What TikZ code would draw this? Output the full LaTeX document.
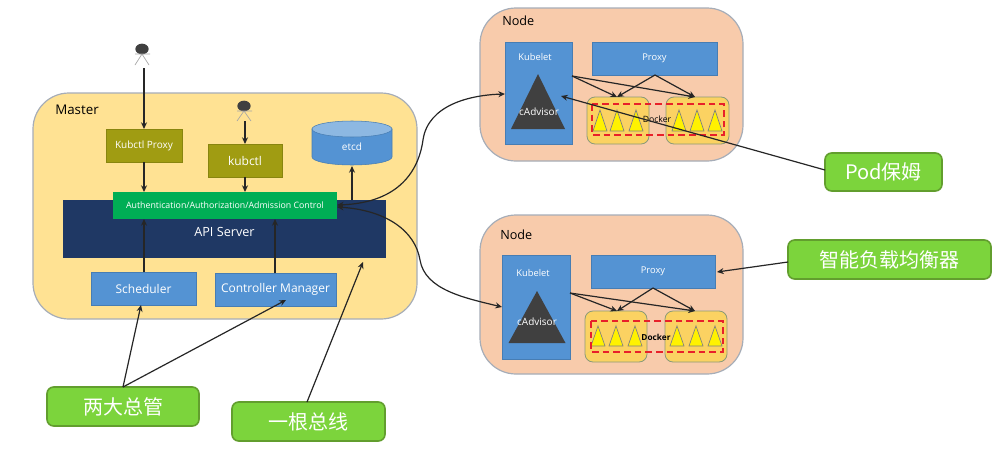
\documentclass[tikz,border=0pt]{standalone}
\usepackage{fontspec}
\setmainfont{Open Sans}
\newfontfamily\cjk{Noto Sans CJK SC}
\usetikzlibrary{arrows.meta,calc,shapes.geometric}
\definecolor{masterfill}{HTML}{FFE293}
\definecolor{nodefill}{HTML}{F8CBAB}
\definecolor{frameline}{HTML}{A6ADB8}
\definecolor{bluebox}{HTML}{5493D3}
\definecolor{bluetop}{HTML}{8DB8E2}
\definecolor{navybox}{HTML}{1F3864}
\definecolor{greenbarc}{HTML}{00AE55}
\definecolor{olivebox}{HTML}{A09C12}
\definecolor{podfill}{HTML}{FBD262}
\definecolor{podline}{HTML}{8A9A78}
\definecolor{callfill}{HTML}{7CD43C}
\definecolor{callline}{HTML}{629E2E}
\definecolor{darktri}{HTML}{404040}
\definecolor{reddash}{HTML}{E8202A}
\tikzset{
  px/.style={x=0.75pt,y=-0.75pt},
  basebox/.style={inner sep=0pt,outer sep=0pt,align=center},
  frame/.style={basebox,draw=frameline,line width=0.9pt,rounded corners=27pt},
  masterbx/.style={frame,fill=masterfill},
  worker/.style={frame,fill=nodefill},
  bluebx/.style={basebox,fill=bluebox,draw=bluebox!85!black,line width=0.4pt,text=white,font=\fontsize{9}{11}\selectfont},
  olivebx/.style={basebox,fill=olivebox,draw=olivebox!85!black,line width=0.5pt,text=white,font=\fontsize{7.5}{9}\selectfont},
  navybx/.style={basebox,fill=navybox,text=white,font=\fontsize{9.5}{11}\selectfont},
  greenbx/.style={basebox,fill=greenbarc,text=white,font=\fontsize{6.6}{8}\selectfont},
  pod/.style={basebox,fill=podfill,draw=podline,line width=0.6pt,rounded corners=6pt},
  callout/.style={basebox,fill=callfill,draw=callline,line width=1.2pt,rounded corners=5pt,text=white,font=\cjk\fontsize{15}{17}\selectfont},
  redbox/.style={draw=reddash,line width=1.5pt,dash pattern=on 5pt off 3pt},
  ytri/.style={fill=yellow,draw=gray,line width=0.5pt},
  dtri/.style={fill=darktri},
  conn/.style={draw=black!85,line width=0.9pt,-{Stealth[length=5pt,width=4.5pt]}},
  dconn/.style={draw=black!85,line width=0.9pt,{Stealth[length=5pt,width=4.5pt]}-{Stealth[length=5pt,width=4.5pt]}},
  stick/.style={draw=gray!70,line width=0.5pt},
  lbl/.style={inner sep=0pt,font=\fontsize{9.5}{11}\selectfont},
  headshape/.style={fill=darktri,ellipse,inner sep=0pt,minimum width=10pt,minimum height=8pt},
  dockerlbl/.style={inner sep=0pt,font=\fontsize{6.5}{8}\selectfont},
}
\newcommand{\pbx}[7]{%
  \pgfmathsetmacro{\cxv}{(#3+#5)/2}\pgfmathsetmacro{\cyv}{(#4+#6)/2}%
  \pgfmathsetmacro{\wv}{(#5-#3)*0.75}\pgfmathsetmacro{\hv}{(#6-#4)*0.75}%
  \node[#2,minimum width=\wv pt,minimum height=\hv pt] (#1) at (\cxv,\cyv) {#7};}
\newcommand{\ptri}[5]{\fill[#1] (#2,#3) -- ({#2-#5},#4) -- ({#2+#5},#4) -- cycle;}
\newcommand{\ytriangle}[4]{\draw[ytri] (#1,#2) -- ({#1-#4},#3) -- ({#1+#4},#3) -- cycle;}
\begin{document}
\begin{tikzpicture}[px]
\useasboundingbox[fill=white] (0,0) rectangle (1003,450);
% Master
\pbx{master}{masterbx}{33}{93}{417}{319}{}
\node[lbl,anchor=west,font=\fontsize{10}{12}\selectfont] (masterlabel) at (55,110) {Master};
\pbx{api}{navybx}{63}{200}{386}{258}{\raisebox{-11pt}{API Server}}
\pbx{auth}{greenbx}{113}{192}{337}{219}{Authentication/Authorization/Admission Control}
\pbx{kproxy}{olivebx}{106}{129}{182}{162}{Kubctl Proxy}
\pbx{kctl}{olivebx,font=\fontsize{9}{11}\selectfont}{208}{144}{282}{177}{kubctl}
\pbx{sched}{bluebx}{91}{272}{196}{305}{Scheduler}
\pbx{ctrl}{bluebx}{215}{273}{336}{306}{Controller Manager}
% etcd
\fill[bluebox,draw=bluebox!85!black,line width=0.4pt] (312,129) -- (312,157) arc[start angle=180,end angle=360,x radius=40,y radius=-8] -- (392,129) -- cycle;
\draw[fill=bluetop,draw=bluebox!85!black,line width=0.4pt] (352,129) ellipse[x radius=40,y radius=8];
\node[inner sep=0pt,text=white,font=\fontsize{7.5}{9}\selectfont] (etcd) at (352,147) {etcd};
% Persons
\node[headshape] (person1) at (142,49) {};
\draw[stick] (135,54) -- (150,54) (142,54) -- (135,65) (142,54) -- (149,65);
\node[headshape] (person2) at (244,106) {};
\draw[stick] (237,111) -- (252,111) (244,111) -- (237,121) (244,111) -- (251,121);
\coordinate (p1foot) at (144,68);
\coordinate (p2foot) at (245,121);
% Master connectors
\draw[conn] (p1foot) -- (p1foot |- kproxy.north);
\draw[conn] (p2foot) -- (p2foot |- kctl.north);
\draw[conn] (kproxy.south -| p1foot) -- (p1foot |- auth.north);
\draw[conn] (kctl.south -| p2foot) -- (p2foot |- auth.north);
\coordinate (etcdfoot) at (352,200);
\coordinate (etcdbottom) at (352,166);
\draw[conn] (etcdfoot) -- (etcdbottom);
\draw[conn] (sched.north -| p1foot) -- (p1foot |- auth.south);
\coordinate (ctrlx) at (275,0);
\draw[conn] (ctrl.north -| ctrlx) -- (ctrlx |- auth.south);
% Node 1
\pbx{nodeA}{worker}{480}{8}{743}{161}{}
\node[lbl,anchor=west] (nodeAlabel) at (502,21) {Node};
\pbx{kubA}{bluebx}{505}{42}{572}{144}{}
\node[inner sep=0pt,text=white,font=\fontsize{7}{9}\selectfont] (kubAt) at (535,57) {Kubelet};
\pbx{proxyA}{bluebx,font=\fontsize{7}{9}\selectfont}{592}{42}{717}{75}{Proxy}
\ptri{dtri}{538}{74}{129}{27}
\node[inner sep=0pt,text=white,font=\fontsize{7.5}{9}\selectfont] (cadvA) at (539,112) {cAdvisor};
\pbx{podA1}{pod}{587}{97}{649}{144}{}
\pbx{podA2}{pod}{666}{97}{729}{144}{}
\ytriangle{600}{110}{131}{7}
\ytriangle{617}{110}{131}{7}
\ytriangle{636}{110}{131}{7}
\ytriangle{679}{110}{131}{7}
\ytriangle{697}{110}{131}{7}
\ytriangle{715}{110}{131}{7}
\draw[redbox] (592,104) rectangle (724,135);
\node[dockerlbl] (dockerA) at (657,119) {Docker};
\coordinate (kubAr) at (572,76);
\coordinate (proxyAb) at (655,75);
\coordinate (podAin1) at (617,97);
\coordinate (podAin2) at (695,97);
\draw[conn] (kubAr) -- (podAin1);
\draw[conn] (kubAr) -- (podAin2);
\draw[conn] (proxyAb) -- (podAin1);
\draw[conn] (proxyAb) -- (podAin2);
% Node 2
\pbx{nodeB}{worker}{480}{215}{743}{374}{}
\node[lbl,anchor=west] (nodeBlabel) at (500,235) {Node};
\pbx{kubB}{bluebx}{502}{255}{570}{359}{}
\node[inner sep=0pt,text=white,font=\fontsize{7}{9}\selectfont] (kubBt) at (533,273) {Kubelet};
\pbx{proxyB}{bluebx,font=\fontsize{7}{9}\selectfont}{591}{255}{715}{288}{Proxy}
\ptri{dtri}{537}{291}{343}{28.5}
\node[inner sep=0pt,text=white,font=\fontsize{7.5}{9}\selectfont] (cadvB) at (537,322) {cAdvisor};
\pbx{podB1}{pod}{585}{311}{647}{362}{}
\pbx{podB2}{pod}{665}{311}{727}{362}{}
\ytriangle{598}{326}{346}{7}
\ytriangle{616}{326}{346}{7}
\ytriangle{635}{326}{346}{7}
\ytriangle{677}{326}{346}{7}
\ytriangle{696}{326}{346}{7}
\ytriangle{715}{326}{346}{7}
\draw[redbox] (591,321) rectangle (723,352);
\node[dockerlbl,font=\bfseries\fontsize{6.2}{8}\selectfont] (dockerB) at (656,337) {Docker};
\coordinate (kubBr) at (570,293);
\coordinate (proxyBb) at (653,288);
\coordinate (podBin1) at (617,311);
\coordinate (podBin2) at (695,311);
\draw[conn] (kubBr) -- (podBin1);
\draw[conn] (kubBr) -- (podBin2);
\draw[conn] (proxyBb) -- (podBin1);
\draw[conn] (proxyBb) -- (podBin2);
% Curved links
\coordinate (authA) at (337,205);
\coordinate (authB) at (337,207);
\coordinate (kubAl) at (505,94);
\coordinate (kubBl) at (502,307);
\draw[dconn] (authA) .. controls (395,203) and (418,175) .. (423,140) .. controls (428,105) and (470,95) .. (kubAl);
\draw[dconn] (authB) .. controls (385,210) and (415,230) .. (420,260) .. controls (425,290) and (465,298) .. (kubBl);
% Callouts
\pbx{callPod}{callout}{825}{153}{942}{191}{Pod保姆}
\pbx{callLb}{callout}{788}{240}{991}{279}{智能负载均衡器}
\pbx{callTwo}{callout}{47}{387}{199}{426}{两大总管}
\pbx{callBus}{callout}{232}{402}{385}{441}{一根总线}
\coordinate (podfrom) at (825,170);
\coordinate (podto) at (561,96);
\coordinate (lbfrom) at (788,262);
\coordinate (lbto) at (717,272);
\coordinate (twofrom) at (123,387);
\coordinate (twoA) at (141,305);
\coordinate (twoB) at (286,300);
\coordinate (busfrom) at (307,402);
\coordinate (busto) at (363,262);
\draw[conn] (podfrom) -- (podto);
\draw[conn] (lbfrom) -- (lbto);
\draw[conn] (twofrom) -- (twoA);
\draw[conn] (twofrom) -- (twoB);
\draw[conn] (busfrom) -- (busto);
\end{tikzpicture}
\end{document}
